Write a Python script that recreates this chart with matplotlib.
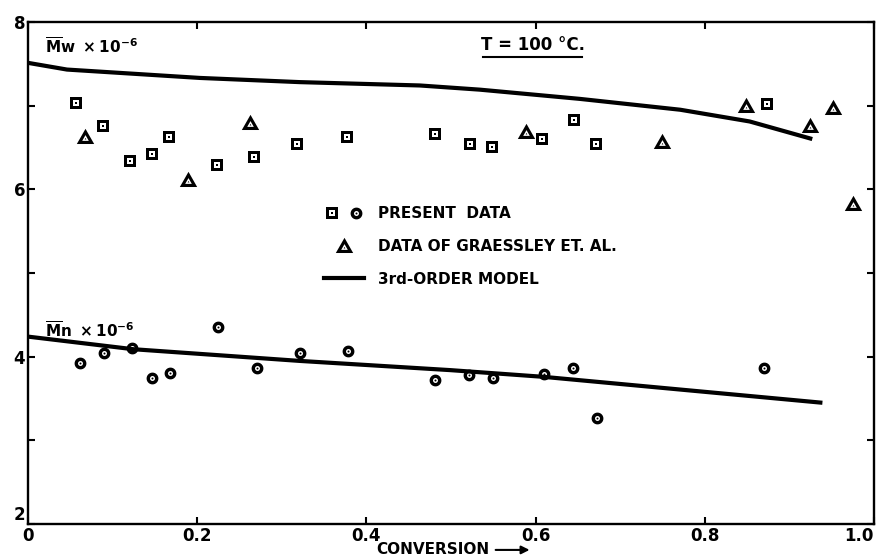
import numpy as np
import matplotlib
matplotlib.use("Agg")
import matplotlib.pyplot as plt
from matplotlib.path import Path
from matplotlib.legend_handler import HandlerTuple
from matplotlib.lines import Line2D

# --- data ---
# Mw x 10^-6, present data (squares)
mw_x = [0.057, 0.089, 0.121, 0.147, 0.167, 0.223, 0.267, 0.318, 0.377,
        0.481, 0.522, 0.548, 0.608, 0.645, 0.671, 0.873]
mw_y = [7.03, 6.76, 6.34, 6.42, 6.63, 6.29, 6.38, 6.54, 6.62,
        6.66, 6.54, 6.50, 6.60, 6.83, 6.54, 7.02]

# Graessley et al. data (triangles)
gr_x = [0.067, 0.189, 0.262, 0.589, 0.749, 0.849, 0.924, 0.952, 0.975]
gr_y = [6.63, 6.11, 6.79, 6.68, 6.56, 6.99, 6.76, 6.97, 5.83]

# Mn x 10^-6, present data (circles)
mn_x = [0.061, 0.090, 0.123, 0.147, 0.168, 0.224, 0.271, 0.321, 0.378,
        0.481, 0.521, 0.550, 0.610, 0.644, 0.672, 0.870]
mn_y = [3.92, 4.05, 4.10, 3.75, 3.81, 4.35, 3.86, 4.04, 4.07,
        3.72, 3.78, 3.74, 3.79, 3.86, 3.27, 3.86]

# 3rd-order model curves
mw_model_x = [0.0, 0.046, 0.203, 0.321, 0.463, 0.534, 0.652, 0.771, 0.853, 0.927]
mw_model_y = [7.51, 7.43, 7.33, 7.28, 7.24, 7.19, 7.08, 6.95, 6.81, 6.60]
mn_model_x = [0.0, 0.124, 0.321, 0.499, 0.609, 0.939]
mn_model_y = [4.24, 4.09, 3.95, 3.84, 3.76, 3.45]

x_ticks = [0, 0.2, 0.4, 0.6, 0.8, 1.0]
x_ticklabels = ["0", "0.2", "0.4", "0.6", "0.8", "1.0"]
y_ticks = [2, 3, 4, 5, 6, 7, 8]
y_ticklabels = ["2", "", "4", "", "6", "", "8"]


# hollow marker with a dot in the middle, as one path
def ring_marker(outer, inner_ratio=0.5, dot_ratio=0.15):
    outer = np.asarray(outer, dtype=float)
    c = outer.mean(axis=0)
    inner = (c + (outer - c) * inner_ratio)[::-1]
    dot = c + (outer - c) * dot_ratio
    paths = [Path(np.vstack([p, p[:1]]), closed=True) for p in (outer, inner, dot)]
    return Path.make_compound_path(*paths)


ang = np.linspace(0, 2 * np.pi, 48, endpoint=False)
circle_pts = np.column_stack([np.cos(ang), np.sin(ang)])
square_pts = [(-1, -1), (1, -1), (1, 1), (-1, 1)]
tri_pts = [(-1, -0.75), (1, -0.75), (0, 1.0)]

sq_m = ring_marker(square_pts, 0.5, 0.18)
ci_m = ring_marker(circle_pts, 0.42, 0.17)
tr_m = ring_marker(tri_pts, 0.38, 0.1)

plt.rcParams["font.family"] = "DejaVu Sans"
plt.rcParams["font.weight"] = "bold"
plt.rcParams["mathtext.default"] = "bf"

fig = plt.figure(figsize=(8.77, 5.6), dpi=100)
ax = fig.add_axes([0.032, 0.064, 0.9646, 0.897])

ax.plot(mw_model_x, mw_model_y, color="black", lw=3.0, solid_capstyle="butt")
ax.plot(mn_model_x, mn_model_y, color="black", lw=3.0, solid_capstyle="butt")

h_sq, = ax.plot(mw_x, mw_y, ls="none", marker=sq_m, ms=8, mew=0, color="black")
h_ci, = ax.plot(mn_x, mn_y, ls="none", marker=ci_m, ms=8.5, mew=0, color="black")
h_tr, = ax.plot(gr_x, gr_y, ls="none", marker=tr_m, ms=12.5, mew=0, color="black")
h_ln = Line2D([], [], color="black", lw=3.0)

ax.set_xlim(0, 1.0)
ax.set_ylim(2, 8)
ax.set_xticks(x_ticks)
ax.set_xticklabels(x_ticklabels, fontsize=12, fontweight="bold")
ax.set_yticks(y_ticks)
ax.set_yticklabels(y_ticklabels, fontsize=12, fontweight="bold")
ax.get_xticklabels()[-1].set_ha("right")
ax.get_yticklabels()[0].set_va("bottom")
ax.tick_params(direction="in", top=True, right=True, length=5, width=1.5, pad=2)
for s in ax.spines.values():
    s.set_linewidth(1.7)

leg = ax.legend([(h_sq, h_ci), h_tr, h_ln],
                ["PRESENT  DATA", "DATA OF GRAESSLEY ET. AL.", "3rd-ORDER MODEL"],
                handler_map={tuple: HandlerTuple(ndivide=None, pad=0.6)},
                loc="upper left", bbox_to_anchor=(0.334, 0.66), frameon=False,
                handlelength=2.6, handletextpad=0.9, labelspacing=1.15,
                prop={"weight": "bold", "size": 11})

ax.text(0.02, 0.97, r"$\overline{M}w\ \times 10^{-6}$", transform=ax.transAxes,
        fontsize=11, va="top", ha="left")
ax.text(0.02, 0.405, r"$\overline{M}n\ \times 10^{-6}$", transform=ax.transAxes,
        fontsize=11, va="top", ha="left")
ax.text(0.597, 0.954, "T = 100 °C.", transform=ax.transAxes,
        fontsize=12, va="center", ha="center")
ax.plot([0.538, 0.655], [0.930, 0.930], transform=ax.transAxes, color="black", lw=1.5)

fig.text(0.494, 0.018, "CONVERSION", fontsize=11, fontweight="bold", ha="center", va="center")
fig.add_artist(matplotlib.patches.FancyArrowPatch((0.562, 0.018), (0.607, 0.018),
               transform=fig.transFigure, arrowstyle="-|>", mutation_scale=12,
               color="black", lw=1.5))

fig.savefig("out.png", dpi=100)
